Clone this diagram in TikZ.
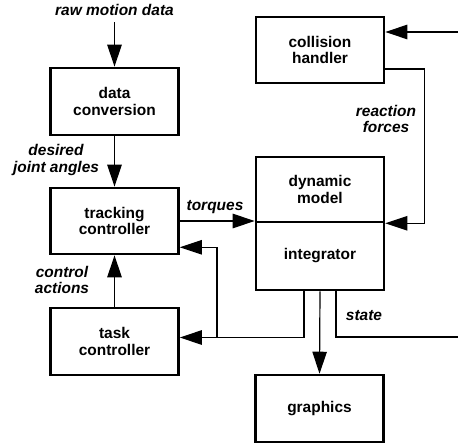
\documentclass[tikz,border=0pt]{standalone}
\usepackage{fontspec}
\setmainfont{Liberation Sans}
\usetikzlibrary{arrows.meta,positioning,calc}

\begin{document}
\begin{tikzpicture}[x=0.025cm,y=-0.025cm,
every node/.style={font=\fontsize{11}{12}\selectfont},
blk/.style={draw,line width=1.8pt,minimum width=3.2cm,minimum height=1.675cm,
align=center,font=\fontsize{11}{12}\selectfont\bfseries,inner sep=2pt},
lbl/.style={align=center,font=\fontsize{11}{12}\selectfont\bfseries\itshape,inner sep=1pt},
arr/.style={-{Triangle[length=5.5mm,width=3.6mm]},line width=0.85pt},
wire/.style={line width=0.85pt}
]
\useasboundingbox (0,0) rectangle (458,446);
% blocks
\node[blk] (conv)  at (114.5,101.5) {data\\conversion};
\node[blk,minimum height=1.65cm] (track) at (114.5,221) {tracking\\controller};
\node[blk] (task)  at (114.5,341.5) {task\\controller};
\node[blk,minimum height=1.65cm] (coll) at (320,50) {collision\\handler};
\node[blk,minimum height=1.625cm] (dyn) at (320,189.5) {dynamic\\model};
\node[blk,minimum height=1.7cm] (integ) at (320,256) {integrator};
\node[blk] (graph) at (319.5,408.5) {graphics};
% labels
\node[lbl] (raw)    at (114.5,10)  {raw motion data};
\node[lbl] (desjnt) at (56,160)    {desired\\joint angles};
\node[lbl] (torq)   at (215,207)   {torques};
\node[lbl] (ctrl)   at (62,280)    {control\\actions};
\node[lbl] (react)  at (386,119)   {reaction\\forces};
\node[lbl] (state)  at (364,316)   {state};
% free ends
\coordinate (collin) at (458,32);
\coordinate (stout) at (458,337);
\coordinate (fbx) at (217,0);
% connectors
\draw[arr] ($(raw.south)+(0,5)$) -- (conv.north);
\draw[arr] (conv) -- (track);
\draw[arr] (task) -- (track);
\draw[arr] (track.east) -- (track.east -| dyn.west);
\draw[arr] (collin) -- (collin -| coll.east);
\draw[arr] ($(coll.east)+(0,19)$) -- ++(39,0) |- (dyn.south east);
\draw[arr] (integ.south) -- (graph.north);
\draw[arr] ($(integ.south)+(-16,0)$) |- ($(task.east)+(0,-4)$);
\draw[arr] (fbx |- {$(task.east)+(0,-4)$}) |- ($(track.south east)+(0,-8)$);
\draw[wire] ($(integ.south)+(16,0)$) |- (stout);
\end{tikzpicture}
\end{document}
